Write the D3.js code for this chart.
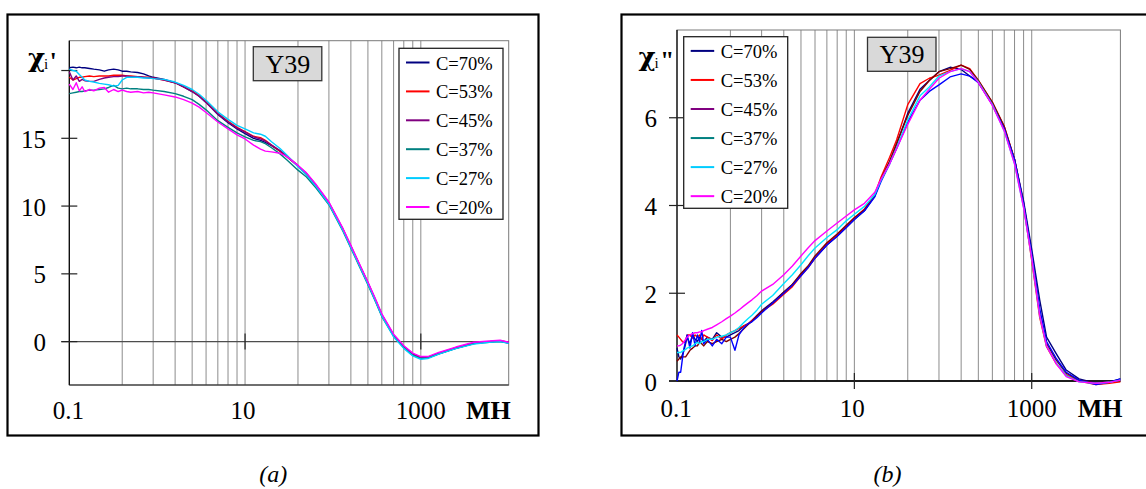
<!DOCTYPE html>
<html><head><meta charset="utf-8">
<script src="https://cdn.jsdelivr.net/npm/d3@7"></script>
<style>
body{margin:0;background:#fff}
svg{display:block}
text{font-family:"Liberation Serif","Times New Roman",serif;fill:#000}
</style>
</head><body>
<svg id="c" width="1146" height="489"></svg>
<script>
// ---------- data ----------
const seriesLabels = ["C=70%","C=53%","C=45%","C=37%","C=27%","C=20%"];
const legendColors = ["#000080","#ff0000","#800080","#008080","#00ccff","#ff00ff"];
const plotColorsA  = ["#000080","#ff0000","#800080","#008080","#00ccff","#ff00ff"];
const plotColorsB  = ["#000080","#ff0000","#800000","#0000ff","#00e5ff","#ff00ff"];
const xTickValues = [0.1, 10, 1000];
const xTickLabels = ["0.1", "10", "1000"];
const gridValues = [0.4,0.9,1.6,2.5,3.6,4.9,6.4,8.1,10,40,90,160,250,360,490,640,810,1000];
const yTicksA = [0,5,10,15,20];
const yTickLabelsA = ["0","5","10","15",""];
const yTicksB = [0,2,4,6];
const yTickLabelsB = ["0","2","4","6"];

// panel (a): chi_i'
const xsA = [0.1,0.11,0.12,0.13,0.14,0.15,0.17,0.19,0.22,0.25,0.28,0.32,0.36,0.4,0.45,0.5,0.6,0.7,0.8,0.9,1.2,1.6,2,2.5,3,3.6,4.9,6.4,8.1,10,12.5,15,17,20,25,30,40,50,65,90,130,160,200,250,300,360,490,640,810,1000,1200,1600,2500,4000,6000,8000,10000];
const a70 = [20.2,20.25,20.2,20.25,20.2,20.2,20.15,20.1,20.05,19.95,20.05,20.1,20.05,19.95,19.95,19.9,19.85,19.75,19.6,19.5,19.35,19.1,18.8,18.45,18.1,17.65,16.75,16.15,15.7,15.35,15.0,14.85,14.7,14.45,14.05,13.65,12.95,12.35,11.45,10.2,8.25,7.0,5.65,4.3,3.15,1.95,0.45,-0.4,-0.95,-1.2,-1.2,-0.9,-0.5,-0.15,0.0,0.05,-0.1];
const a53 = [19.5,19.3,19.4,19.5,19.5,19.55,19.6,19.55,19.6,19.6,19.6,19.65,19.65,19.65,19.6,19.6,19.55,19.5,19.5,19.45,19.3,19.1,18.8,18.5,18.15,17.7,16.85,16.25,15.8,15.5,15.15,15.05,14.85,14.5,14.05,13.65,12.95,12.35,11.45,10.2,8.25,7.0,5.65,4.3,3.15,1.95,0.45,-0.4,-0.95,-1.2,-1.2,-0.88,-0.45,-0.1,0.0,0.05,-0.05];
const a45 = [19.9,19.3,19.6,19.2,19.35,19.25,19.2,19.2,19.35,19.45,19.5,19.55,19.55,19.6,19.6,19.55,19.55,19.5,19.45,19.45,19.3,19.1,18.8,18.45,18.1,17.65,16.8,16.2,15.75,15.45,15.1,14.95,14.8,14.5,14.1,13.7,13.0,12.4,11.5,10.25,8.3,7.05,5.7,4.35,3.2,2.0,0.5,-0.35,-0.9,-1.15,-1.15,-0.85,-0.45,-0.1,0.0,0.05,-0.05];
const a37 = [18.3,18.35,18.4,18.45,18.45,18.5,18.55,18.55,18.6,18.65,18.75,18.9,18.7,18.65,18.7,18.65,18.65,18.6,18.6,18.55,18.45,18.3,18.1,17.85,17.5,17.1,16.3,15.8,15.4,15.1,14.85,14.75,14.6,14.3,13.85,13.4,12.65,12.15,11.3,10.1,8.15,6.9,5.55,4.2,3.05,1.85,0.4,-0.45,-1.0,-1.25,-1.2,-0.9,-0.5,-0.15,-0.05,0.0,-0.1];
const a27 = [20.1,20.0,19.95,19.7,19.5,19.3,19.2,19.15,19.05,19.0,18.95,18.85,18.9,19.3,19.5,19.5,19.5,19.45,19.45,19.4,19.35,19.15,18.9,18.6,18.25,17.8,16.95,16.4,15.95,15.7,15.4,15.3,15.15,14.75,14.25,13.75,12.9,12.3,11.4,10.15,8.2,6.95,5.6,4.25,3.1,1.9,0.35,-0.5,-1.05,-1.3,-1.25,-0.92,-0.52,-0.18,-0.05,0.0,-0.12];
const a20 = [19.0,18.6,19.1,18.5,18.8,18.45,18.6,18.5,18.7,18.75,18.4,18.6,18.45,18.55,18.45,18.4,18.45,18.35,18.4,18.35,18.2,18.05,17.85,17.6,17.3,16.9,16.2,15.7,15.25,14.95,14.5,14.2,14.05,14.0,13.9,13.65,13.0,12.45,11.55,10.3,8.35,7.1,5.75,4.4,3.25,2.05,0.55,-0.3,-0.85,-1.1,-1.1,-0.8,-0.4,-0.05,0.05,0.1,-0.05];

// panel (b): chi_i''
const xsB = [0.1,0.105,0.11,0.115,0.12,0.125,0.13,0.14,0.15,0.16,0.17,0.18,0.19,0.2,0.22,0.25,0.28,0.32,0.36,0.4,0.45,0.5,0.56,0.63,0.7,0.8,0.9,1.2,1.6,2,2.5,3,3.6,4.9,6.4,8.1,10,13,17,20,25,30,40,55,70,90,120,160,200,250,360,490,640,810,1000,1230,1470,1880,2450,3420,5300,7500,10000];
const b70 = [0.75,0.55,0.5,0.6,0.7,0.85,1.0,0.85,1.05,0.95,0.9,1.0,0.95,0.9,1.0,0.95,1.1,1.0,1.0,1.05,1.1,1.15,1.25,1.3,1.38,1.5,1.6,1.8,2.03,2.2,2.43,2.6,2.8,3.1,3.3,3.5,3.68,3.88,4.22,4.6,5.0,5.4,6.1,6.65,6.85,7.05,7.15,7.1,6.95,6.82,6.3,5.75,5.05,4.1,3.0,1.85,1.0,0.63,0.25,0.05,-0.05,-0.02,0.05];
const b53 = [1.05,1.0,0.95,0.9,0.88,0.9,1.05,1.05,0.98,1.05,1.0,1.05,0.95,1.05,1.0,0.92,1.05,0.95,1.05,1.1,1.15,1.2,1.25,1.3,1.38,1.48,1.58,1.75,1.98,2.15,2.4,2.58,2.8,3.12,3.33,3.52,3.72,3.92,4.25,4.65,5.1,5.5,6.3,6.78,6.9,6.97,7.08,7.2,7.12,6.85,6.35,5.8,5.05,4.0,2.75,1.45,0.78,0.4,0.14,0.0,-0.08,-0.05,-0.02];
const b45 = [0.45,0.5,0.55,0.55,0.55,0.55,0.6,0.7,0.75,0.8,0.8,0.9,0.85,0.8,0.9,0.85,0.9,0.95,0.9,0.95,1.0,1.08,1.18,1.28,1.36,1.48,1.58,1.78,2.02,2.2,2.45,2.62,2.85,3.15,3.35,3.55,3.72,3.9,4.22,4.6,5.0,5.42,6.05,6.6,6.85,7.05,7.12,7.2,7.1,6.85,6.35,5.8,5.05,4.05,2.85,1.55,0.85,0.48,0.18,0.02,-0.05,-0.02,0.02];
const b37 = [0.0,0.2,0.2,0.5,0.75,0.9,1.05,0.75,1.1,0.8,1.05,0.9,1.15,0.85,0.95,0.8,0.95,0.85,1.0,1.0,0.7,1.05,1.2,1.3,1.35,1.45,1.55,1.78,2.0,2.18,2.4,2.58,2.8,3.1,3.3,3.5,3.68,3.88,4.2,4.55,4.95,5.3,5.9,6.4,6.6,6.75,6.93,7.0,6.95,6.8,6.3,5.75,5.05,4.05,2.9,1.65,0.9,0.52,0.2,0.02,-0.08,-0.03,0.05];
const b27 = [0.65,0.65,0.65,0.68,0.7,0.72,0.75,0.78,0.8,0.85,0.88,0.85,0.9,0.9,0.95,0.95,1.0,1.02,1.05,1.1,1.15,1.22,1.32,1.42,1.5,1.62,1.75,1.95,2.22,2.42,2.65,2.85,3.03,3.27,3.45,3.65,3.8,3.98,4.25,4.58,4.95,5.32,5.95,6.5,6.7,6.95,7.05,7.12,7.05,6.82,6.3,5.7,4.95,3.95,2.8,1.5,0.8,0.42,0.12,-0.02,-0.05,-0.03,0.02];
const b20 = [0.8,0.8,0.82,0.85,0.9,0.95,1.0,1.05,1.08,1.1,1.1,1.12,1.12,1.15,1.18,1.22,1.28,1.35,1.42,1.48,1.55,1.62,1.7,1.78,1.85,1.95,2.05,2.2,2.42,2.62,2.85,3.03,3.2,3.42,3.6,3.76,3.9,4.05,4.3,4.6,4.95,5.3,5.85,6.4,6.65,6.9,7.05,7.12,7.05,6.8,6.28,5.7,4.95,3.95,2.8,1.5,0.8,0.4,0.1,-0.02,-0.05,-0.03,0.02];

// ---------- drawing ----------
const svg = d3.select("#c");
const SERIF = "'Liberation Serif','Times New Roman',serif";

function drawPanel(o) {
  const g = svg.append("g");
  const x = d3.scaleLog().domain([0.1, 10000]).range([o.x0, o.x1]);
  const y = d3.scaleLinear().domain(o.yDomain).range([o.yBottom, o.yTop]);

  g.append("rect").attr("x", o.fx).attr("y", o.fy).attr("width", o.fw).attr("height", o.fh)
    .attr("fill", "#fff").attr("stroke", "#000").attr("stroke-width", 2.2);

  g.selectAll("line.grid").data(gridValues).enter().append("line")
    .attr("x1", d => x(d)).attr("x2", d => x(d))
    .attr("y1", o.yTop).attr("y2", o.yBottom)
    .attr("stroke", "#8c8c8c").attr("stroke-width", 1);

  g.append("rect").attr("x", o.x0).attr("y", o.yTop).attr("width", o.x1 - o.x0).attr("height", o.yBottom - o.yTop)
    .attr("fill", "none").attr("stroke", "#7a7a7a").attr("stroke-width", 1);
  g.append("line").attr("x1", o.x0).attr("x2", o.x0).attr("y1", o.yTop).attr("y2", o.yBottom)
    .attr("stroke", "#000").attr("stroke-width", 1.2);
  g.append("line").attr("x1", o.x0).attr("x2", o.x1).attr("y1", o.yBottom).attr("y2", o.yBottom)
    .attr("stroke", "#222").attr("stroke-width", 1.2);

  g.append("line").attr("x1", o.x0 - 8).attr("x2", o.x1).attr("y1", y(0)).attr("y2", y(0))
    .attr("stroke", o.zeroColor).attr("stroke-width", 1.4);
  g.selectAll("line.xt").data(xTickValues.slice(1)).enter().append("line")
    .attr("x1", d => x(d)).attr("x2", d => x(d))
    .attr("y1", y(0) - 8).attr("y2", y(0) + 8)
    .attr("stroke", "#222").attr("stroke-width", 1.2);

  g.selectAll("line.yt").data(o.yTicks).enter().append("line")
    .attr("x1", o.x0 - 8).attr("x2", o.x0 + 8)
    .attr("y1", d => y(d)).attr("y2", d => y(d))
    .attr("stroke", "#222").attr("stroke-width", 1.2);
  g.selectAll("text.yl").data(o.yTicks).enter().append("text")
    .attr("x", o.yLabelX).attr("y", d => y(d) + 9.5)
    .attr("text-anchor", "end").attr("font-size", 25).attr("font-family", SERIF)
    .text((d, i) => o.yTickLabels[i]);

  g.selectAll("text.xl").data(xTickValues).enter().append("text")
    .attr("x", (d, i) => x(d) + (i === 0 ? -1 : (i === 1 ? -2 : 0)))
    .attr("y", o.xLabelY)
    .attr("text-anchor", "middle").attr("font-size", 25).attr("font-family", SERIF)
    .text((d, i) => xTickLabels[i]);
  g.append("text").attr("x", o.x1 + 2).attr("y", o.xLabelY).attr("font-family", SERIF)
    .attr("text-anchor", "end").attr("font-size", 26).attr("font-weight", "bold").text("MH");

  // y-axis title chi_i' / chi_i''
  const t = g.append("text").attr("x", o.chiX).attr("y", o.chiY);
  t.append("tspan").attr("font-family", "'DejaVu Serif',serif").attr("font-weight", "bold")
    .attr("font-size", 26).text("χ");
  t.append("tspan").attr("font-family", SERIF).attr("font-size", 15).attr("dx", -1).attr("dy", 2).text("i");
  t.append("tspan").attr("font-family", SERIF).attr("font-weight", "bold").attr("font-size", 25)
    .attr("dx", 1.5).attr("dy", 1).text(o.prime);

  const line = d3.line().x(d => x(d[0])).y(d => y(d[1]));
  o.series.forEach((s, i) => {
    const pts = o.xs.map((xv, k) => [xv, s[k]]);
    g.append("path").datum(pts).attr("d", line)
      .attr("fill", "none").attr("stroke", o.colors[i]).attr("stroke-width", 1.4)
      .attr("stroke-linejoin", "round");
  });

  g.append("rect").attr("x", o.boxX).attr("y", o.boxY).attr("width", 68.5).attr("height", 34)
    .attr("fill", "#d9d9d9").attr("stroke", "#333").attr("stroke-width", 1.3);
  g.append("text").attr("x", o.boxX + 34.5).attr("y", o.boxY + 26).attr("text-anchor", "middle")
    .attr("font-family", SERIF).attr("font-size", 26).text("Y39");

  g.append("rect").attr("x", o.legX).attr("y", o.legY).attr("width", 104).attr("height", o.legH)
    .attr("fill", "#fff").attr("stroke", "#222").attr("stroke-width", 1.3);
  seriesLabels.forEach((lab, i) => {
    const ly = o.legY + 14.2 + i * o.legStep;
    g.append("line").attr("x1", o.legX + 7).attr("x2", o.legX + 30.5).attr("y1", ly).attr("y2", ly)
      .attr("stroke", legendColors[i]).attr("stroke-width", 2);
    g.append("text").attr("x", o.legX + 37).attr("y", ly + 7).attr("font-family", SERIF)
      .attr("font-size", 18.5).text(lab);
  });

  svg.append("text").attr("x", o.capX).attr("y", 482).attr("text-anchor", "middle").attr("font-family", SERIF)
    .attr("font-size", 24).attr("font-style", "italic").text(o.caption);
}

drawPanel({
  fx: 7.5, fy: 14.5, fw: 531, fh: 421,
  x0: 69.3, x1: 508.7, yTop: 40.7, yBottom: 385,
  yDomain: [-3.2, 22.2],
  yTicks: yTicksA, yTickLabels: yTickLabelsA, yLabelX: 46,
  xLabelY: 418.5, zeroColor: "#4d4d4d",
  chiX: 28, chiY: 67, prime: "'",
  xs: xsA, series: [a70, a53, a45, a37, a27, a20], colors: plotColorsA,
  boxX: 253.3, boxY: 46.7,
  legX: 399, legY: 48.3, legH: 171, legStep: 28.9,
  capX: 273.3, caption: "(a)"
});

drawPanel({
  fx: 621.5, fy: 14.5, fw: 540, fh: 421,
  x0: 677, x1: 1120.4, yTop: 30, yBottom: 381,
  yDomain: [0, 8],
  yTicks: yTicksB, yTickLabels: yTickLabelsB, yLabelX: 657,
  xLabelY: 416.5, zeroColor: "#000",
  chiX: 638.5, chiY: 66, prime: "\"",
  xs: xsB, series: [b70, b53, b45, b37, b27, b20], colors: plotColorsB,
  boxX: 867.5, boxY: 37.3,
  legX: 683.7, legY: 36.7, legH: 171.6, legStep: 29.05,
  capX: 887.5, caption: "(b)"
});
</script>
</body></html>
